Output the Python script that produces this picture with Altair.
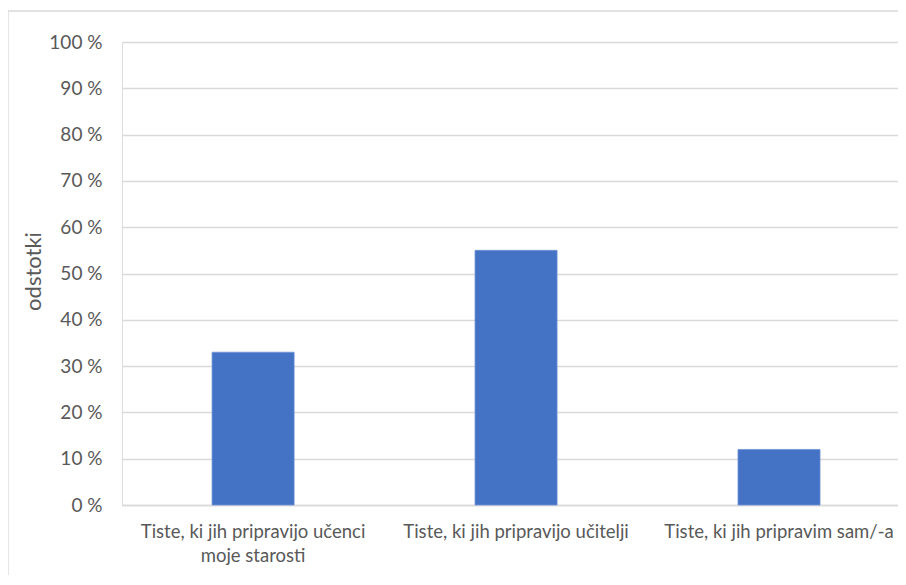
import altair as alt
import pandas as pd

categories = [
    "Tiste, ki jih pripravijo učenci moje starosti",
    "Tiste, ki jih pripravijo učitelji",
    "Tiste, ki jih pripravim sam/-a",
]
values = [33, 55, 12]
y_ticks = [0, 10, 20, 30, 40, 50, 60, 70, 80, 90, 100]

df = pd.DataFrame({"cat": categories, "val": values})

FONT = "Lato"
GREY = "#595959"

label_expr = (
    "datum.label == 'Tiste, ki jih pripravijo učenci moje starosti' ? "
    "['Tiste, ki jih pripravijo učenci', 'moje starosti'] : datum.label"
)

bars = alt.Chart(df).mark_bar(color="#4472C4", stroke="#6f93d6", strokeWidth=0.8).encode(
    x=alt.X(
        "cat:N",
        sort=categories,
        scale=alt.Scale(paddingInner=0.688, paddingOuter=0.3195, align=0.536),
        axis=alt.Axis(
            title=None,
            labelAngle=0,
            labelExpr=label_expr,
            labelFont=FONT,
            labelFontSize=18.5,
            labelColor=GREY,
            labelPadding=17,
            labelLineHeight=24,
            labelLimit=400,
            ticks=False,
            domain=True,
            domainColor="#d9d9d9",
            domainWidth=1.3,
        ),
    ),
    y=alt.Y(
        "val:Q",
        scale=alt.Scale(domain=[0, 100]),
        axis=alt.Axis(
            values=y_ticks,
            title="odstotki",
            titleFont=FONT,
            titleFontSize=22,
            titleFontWeight="normal",
            titleColor=GREY,
            titleX=-89,
            titleY=229,
            titleAngle=-90,
            titleAlign="center",
            titleBaseline="middle",
            labelExpr="datum.value + ' %'",
            labelFont=FONT,
            labelFontSize=19,
            labelColor=GREY,
            labelPadding=20,
            ticks=False,
            domain=False,
            grid=True,
            gridColor="#d9d9d9",
            gridWidth=1.3,
        ),
    ),
)

border = alt.Chart(pd.DataFrame({"a": [0]})).mark_rect(
    fill=None, stroke="#d9d9d9", strokeWidth=1.3, clip=False
).encode(
    x=alt.value(-114),
    x2=alt.value(900),
    y=alt.value(-31),
    y2=alt.value(600),
)

chart = (
    alt.layer(border, bars)
    .properties(
        width=776,
        height=463,
        padding={"left": 114, "top": 34, "right": 0, "bottom": 70},
        autosize=alt.AutoSizeParams(type="none"),
    )
    .configure_view(stroke=None)
    .configure(background="white")
)

chart.save("out.html", embed_options={"renderer": "svg", "actions": False})
